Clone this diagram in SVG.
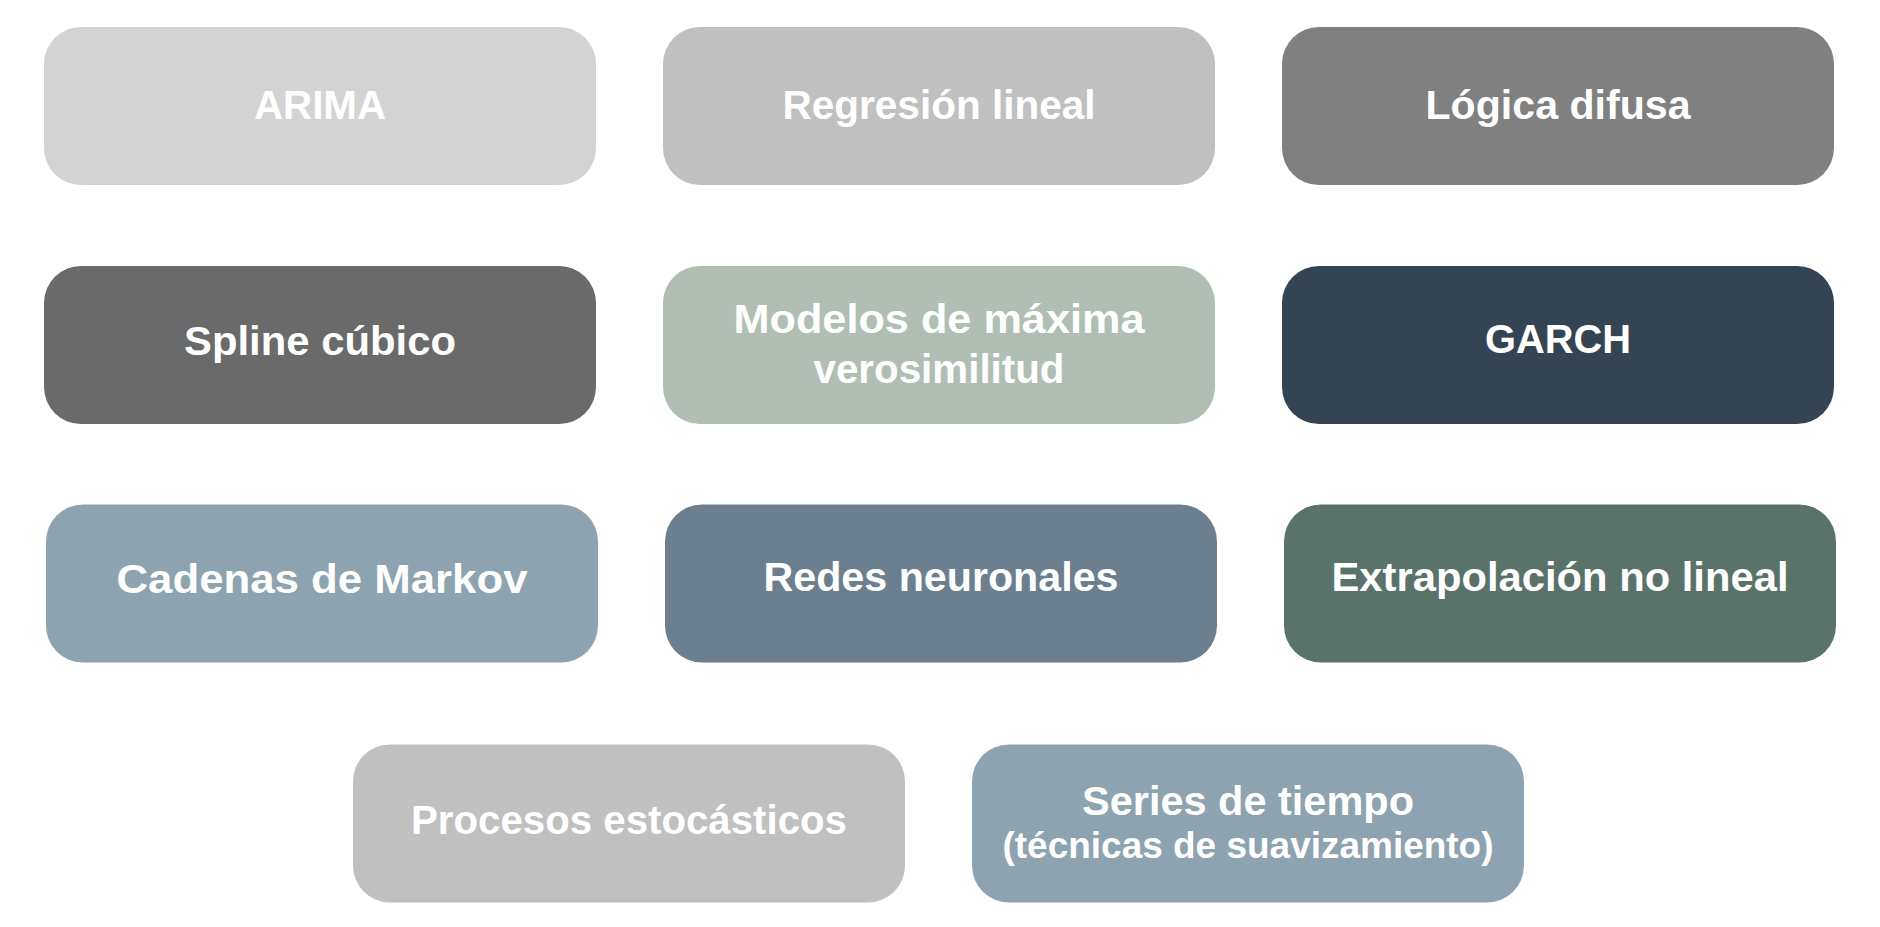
<svg xmlns="http://www.w3.org/2000/svg" width="1880" height="927" viewBox="0 0 1880 927">
<style>
.box{stroke:none}
.t{font-family:"Liberation Sans",Arial,sans-serif;font-weight:bold;font-size:41px;fill:#ffffff;text-anchor:middle}
.s{font-size:37px}
</style>
<rect width="1880" height="927" fill="#ffffff"/>
<g id="connectors"></g>
<g id="arima"><rect class="box" x="44" y="27" width="552" height="158" rx="37" fill="#d3d3d3"/><text class="t" x="320" y="119" textLength="132" lengthAdjust="spacingAndGlyphs">ARIMA</text></g>
<g id="regresion"><rect class="box" x="663" y="27" width="552" height="158" rx="37" fill="#c0c0c0"/><text class="t" x="939" y="119" textLength="313" lengthAdjust="spacingAndGlyphs">Regresión lineal</text></g>
<g id="logica"><rect class="box" x="1282" y="27" width="552" height="158" rx="37" fill="#808080"/><text class="t" x="1558" y="119" textLength="265" lengthAdjust="spacingAndGlyphs">Lógica difusa</text></g>
<g id="spline"><rect class="box" x="44" y="266" width="552" height="158" rx="37" fill="#6a6a6a"/><text class="t" x="320" y="355" textLength="272" lengthAdjust="spacingAndGlyphs">Spline cúbico</text></g>
<g id="modelos"><rect class="box" x="663" y="266" width="552" height="158" rx="37" fill="#b0beb4"/><text class="t" x="939" y="333" textLength="411" lengthAdjust="spacingAndGlyphs">Modelos de máxima</text><text class="t" x="939" y="383" textLength="251" lengthAdjust="spacingAndGlyphs">verosimilitud</text></g>
<g id="garch"><rect class="box" x="1282" y="266" width="552" height="158" rx="37" fill="#354452"/><text class="t" x="1558" y="353" textLength="146" lengthAdjust="spacingAndGlyphs">GARCH</text></g>
<g id="markov"><rect class="box" x="46" y="504.5" width="552" height="158" rx="37" fill="#8ea3b0"/><text class="t" x="322" y="593" textLength="411" lengthAdjust="spacingAndGlyphs">Cadenas de Markov</text></g>
<g id="redes"><rect class="box" x="665" y="504.5" width="552" height="158" rx="37" fill="#6b7f8f"/><text class="t" x="941" y="591" textLength="355" lengthAdjust="spacingAndGlyphs">Redes neuronales</text></g>
<g id="extrapolacion"><rect class="box" x="1284" y="504.5" width="552" height="158" rx="37" fill="#5a736a"/><text class="t" x="1560" y="591" textLength="457" lengthAdjust="spacingAndGlyphs">Extrapolación no lineal</text></g>
<g id="procesos"><rect class="box" x="353" y="744.5" width="552" height="158" rx="37" fill="#c0c0c0"/><text class="t" x="629" y="834" textLength="436" lengthAdjust="spacingAndGlyphs">Procesos estocásticos</text></g>
<g id="series"><rect class="box" x="972" y="744.5" width="552" height="158" rx="37" fill="#8ea3b0"/><text class="t" x="1248" y="815" textLength="332" lengthAdjust="spacingAndGlyphs">Series de tiempo</text><text class="t s" x="1248" y="858" textLength="491" lengthAdjust="spacingAndGlyphs">(técnicas de suavizamiento)</text></g>
</svg>
